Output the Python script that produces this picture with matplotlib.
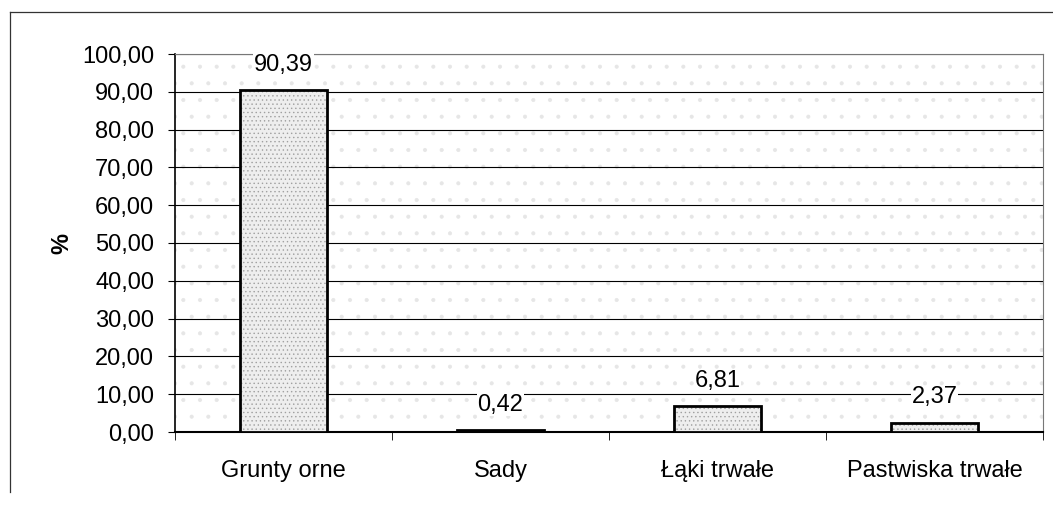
import matplotlib.pyplot as plt
from matplotlib.lines import Line2D
from matplotlib.patches import Rectangle
from matplotlib.ticker import FixedLocator

categories = ["Grunty orne", "Sady", "Łąki trwałe", "Pastwiska trwałe"]
values = [90.39, 0.42, 6.81, 2.37]
labels = ["90,39", "0,42", "6,81", "2,37"]
y_ticks = [0, 10, 20, 30, 40, 50, 60, 70, 80, 90, 100]

plt.rcParams['font.family'] = ['Liberation Sans', 'DejaVu Sans']
plt.rcParams['hatch.linewidth'] = 0.5

fig = plt.figure(figsize=(10.53, 5.05), dpi=100)
# outer chart frame: only the top and left edges show in the scan
fig.add_artist(Line2D([10 / 1053, 1], [1 - 12 / 505, 1 - 12 / 505],
                      transform=fig.transFigure, color="#333333", linewidth=0.9))
fig.add_artist(Line2D([10 / 1053, 10 / 1053], [1 - 12 / 505, 1 - 492 / 505],
                      transform=fig.transFigure, color="#333333", linewidth=0.9))

ax = fig.add_axes([175 / 1053, 1 - 432 / 505, 868 / 1053, 378 / 505])
ax.set_facecolor("white")
# stippled background
ax.add_patch(Rectangle((0, 0), 1, 1, transform=ax.transAxes, facecolor="none",
                       hatch=".", edgecolor="#e6e6e6", linewidth=0, zorder=0))

x = list(range(len(categories)))
ax.bar(x, values, width=0.4, facecolor="#eeeeee", edgecolor="#a0a0a0",
       linewidth=0, hatch="....", zorder=3)
ax.bar(x, values, width=0.4, facecolor="none", edgecolor="black",
       linewidth=2, zorder=4)

for xi, v, t in zip(x, values, labels):
    ax.text(xi, v + 6.8, t, ha="center", va="center", fontsize=17, zorder=5,
            bbox=dict(facecolor="white", edgecolor="none", pad=0.5))

ax.set_xlim(-0.5, 3.5)
ax.set_ylim(0, 100)
ax.yaxis.set_major_locator(FixedLocator(y_ticks))
ax.set_yticklabels([f"{t:.2f}".replace(".", ",") for t in y_ticks], fontsize=17)
ax.set_xticks(x)
ax.set_xticklabels(categories, fontsize=17)
ax.xaxis.set_minor_locator(FixedLocator([-0.5, 0.5, 1.5, 2.5, 3.5]))
ax.tick_params(axis="x", which="major", length=0, pad=20)
ax.tick_params(axis="x", which="minor", length=6, direction="out")
ax.tick_params(axis="y", length=5, direction="out", pad=10)
ax.grid(axis="y", color="black", linewidth=0.8, zorder=1)
for s in ["top", "right"]:
    ax.spines[s].set_color("#777777")
    ax.spines[s].set_linestyle((0, (2, 1)))
ax.spines["left"].set_linewidth(1.2)
ax.spines["bottom"].set_linewidth(1.5)
ax.set_ylabel("%", fontsize=17, fontweight="bold", labelpad=6)

fig.savefig("out.png", dpi=100)
